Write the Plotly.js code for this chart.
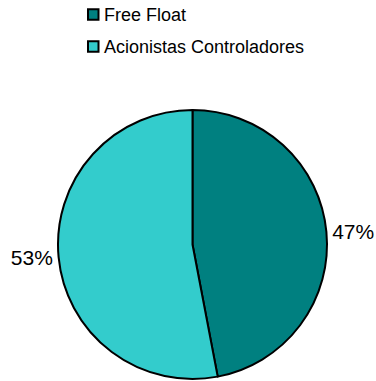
<!DOCTYPE html>
<html>
<head>
<meta charset="utf-8">
<script src="https://cdn.plot.ly/plotly-3.0.1.min.js"></script>
<style>html,body{margin:0;padding:0;background:#fff;}#chart{width:376px;height:381px;}</style>
</head>
<body>
<div id="chart"></div>
<script>
const labels = ["Free Float", "Acionistas Controladores"];
const values = [47, 53];
const colors = ["#008080", "#33CCCC"];

const W = 376, H = 381;
const px = (x) => x / W;
const py = (y) => 1 - y / H;

const shapes = [];
const annotations = [];
labels.forEach((lab, i) => {
  const cy = 14.5 + i * 32;
  shapes.push({
    type: "rect", xref: "paper", yref: "paper",
    x0: px(88), x1: px(98.5), y0: py(cy - 5.3), y1: py(cy + 5.3),
    fillcolor: colors[i], line: {color: "#000", width: 2}
  });
  annotations.push({
    xref: "paper", yref: "paper", x: px(102), y: py(cy + 0.5),
    xanchor: "left", yanchor: "middle", showarrow: false,
    text: lab, font: {family: "Arial, Liberation Sans, sans-serif", size: 18, color: "#000"}
  });
});

const trace = {
  type: "pie",
  labels: labels,
  values: values,
  sort: false,
  direction: "clockwise",
  rotation: 0,
  marker: {colors: colors, line: {color: "#000", width: 2}},
  textinfo: "percent",
  textposition: "outside",
  texttemplate: "%{percent:.0%}",
  outsidetextfont: {family: "Arial, Liberation Sans, sans-serif", size: 21, color: "#000"},
  hoverinfo: "label+percent",
  domain: {x: [px(58), px(327)], y: [py(379), py(110)]},
  showlegend: false
};

Plotly.newPlot("chart", [trace], {
  width: W, height: H,
  margin: {l: 0, r: 0, t: 0, b: 0},
  paper_bgcolor: "#fff",
  plot_bgcolor: "#fff",
  showlegend: false,
  shapes: shapes,
  annotations: annotations
}, {displayModeBar: false, staticPlot: true});
</script>
</body>
</html>
